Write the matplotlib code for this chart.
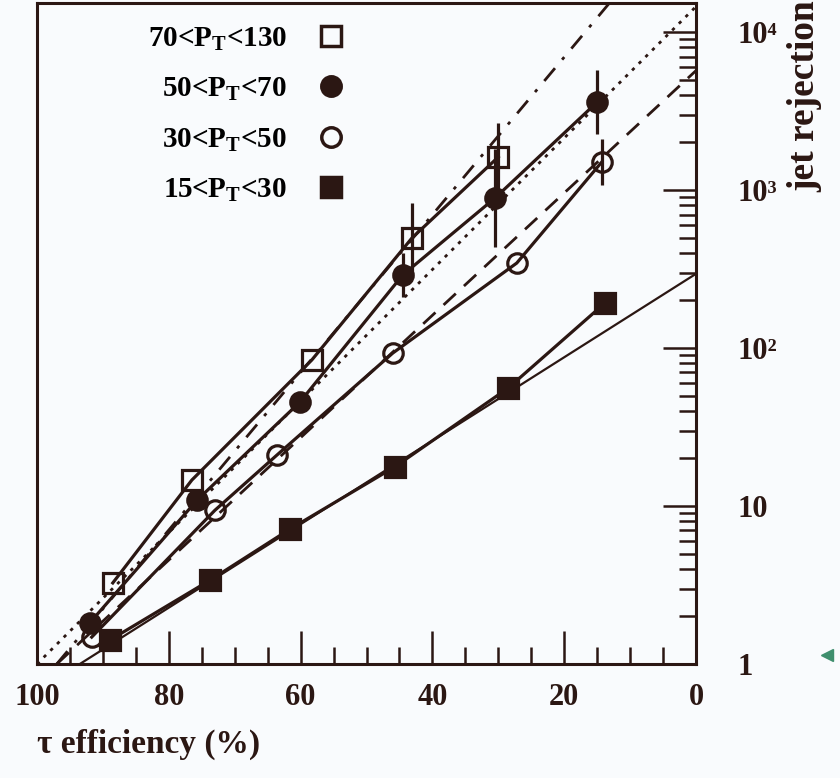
import numpy as np
import matplotlib.pyplot as plt
from matplotlib.lines import Line2D
from matplotlib.ticker import MultipleLocator, LogLocator, NullFormatter

plt.rcParams['font.family'] = ['Liberation Serif', 'DejaVu Serif']
plt.rcParams['font.weight'] = 'bold'

INK = '#2b1713'
BG = '#f9fbfd'
nan = np.nan

# tau efficiency (%) vs jet rejection, one series per P_T bin
eff_70_130 = [88.5, 76.5, 58.3, 43.1, 30.0]
rej_70_130 = [3.26, 14.6, 84, 497, 1618]
lo_70_130 = [nan, nan, nan, 298, 986]
hi_70_130 = [nan, nan, nan, 827, 2655]

eff_50_70 = [92.0, 75.7, 60.1, 44.5, 30.5, 15.0]
rej_50_70 = [1.82, 10.9, 45.5, 290, 890, 3600]
lo_50_70 = [nan, nan, nan, 210, 436, 2261]
hi_50_70 = [nan, nan, nan, 399, 1817, 5745]

eff_30_50 = [91.7, 73.0, 63.6, 46.0, 27.2, 14.3]
rej_30_50 = [1.48, 9.4, 21, 93, 345, 1504]
lo_30_50 = [nan, nan, nan, nan, nan, 1076]
hi_30_50 = [nan, nan, nan, nan, nan, 2103]

eff_15_30 = [88.9, 73.7, 61.6, 45.7, 28.5, 13.8]
rej_15_30 = [1.42, 3.4, 7.15, 17.7, 55.8, 193]

labels = ['70<P$_{\\mathregular{T}}$<130', '50<P$_{\\mathregular{T}}$<70',
          '30<P$_{\\mathregular{T}}$<50', '15<P$_{\\mathregular{T}}$<30']

# straight reference curves (end points)
ref_solid_eff, ref_solid_rej = [93.5, 0], [1, 295]
ref_dash_eff, ref_dash_rej = [97, 0], [1, 5700]
ref_dot_eff, ref_dot_rej = [100, 0], [1, 14500]
ref_dashdot_eff, ref_dashdot_rej = [97, 0], [1, 69000]

yticks = [1, 10, 100, 1000, 10000]
yticklabels = ['1', '10', '10\u00b2', '10\u00b3', '10\u2074']

fig = plt.figure(figsize=(8.4, 7.78), dpi=100, facecolor=BG)
ax = fig.add_axes([37 / 840, 1 - 664 / 778, (696 - 37) / 840, (664 - 3) / 778])
ax.set_facecolor(BG)

ax.plot(ref_solid_eff, ref_solid_rej, color=INK, lw=1.6)
ax.plot(ref_dash_eff, ref_dash_rej, color=INK, lw=2.0, dashes=(6, 4))
ax.plot(ref_dot_eff, ref_dot_rej, color=INK, lw=2.0, dashes=(1.2, 2.2))
ax.plot(ref_dashdot_eff, ref_dashdot_rej, color=INK, lw=2.0, dashes=(6, 4, 1.2, 4))

series = [
    (eff_70_130, rej_70_130, lo_70_130, hi_70_130, 's', 'none'),
    (eff_50_70, rej_50_70, lo_50_70, hi_50_70, 'o', INK),
    (eff_30_50, rej_30_50, lo_30_50, hi_30_50, 'o', 'none'),
    (eff_15_30, rej_15_30, None, None, 's', INK),
]
handles = []
for eff, rej, lo, hi, mk, fc in series:
    ax.plot(eff, rej, color=INK, lw=2.3, marker=mk, ms=14, mfc=fc,
            mec=INK, mew=2.3)
    if lo is not None:
        e, l, h = np.array(eff), np.array(lo), np.array(hi)
        ok = ~np.isnan(l)
        ax.vlines(e[ok], l[ok], h[ok], color=INK, lw=2.3)
    handles.append(Line2D([], [], ls='none', marker=mk, ms=14, mfc=fc,
                          mec=INK, mew=2.5))

ax.legend(handles, labels, loc='upper left', bbox_to_anchor=(0.135, 1.0),
          markerfirst=False, frameon=False, fontsize=21, handlelength=1.0,
          handletextpad=1.0, labelspacing=0.78, borderaxespad=0.35)

ax.set_xlim(100, 0)
ax.set_yscale('log')
ax.set_ylim(1, 15270)
ax.xaxis.set_major_locator(MultipleLocator(20))
ax.xaxis.set_minor_locator(MultipleLocator(5))
ax.yaxis.tick_right()
ax.set_yticks(yticks)
ax.set_yticklabels(yticklabels)
ax.yaxis.set_minor_locator(LogLocator(base=10, subs=np.arange(2, 10)))
ax.yaxis.set_minor_formatter(NullFormatter())

ax.tick_params(which='both', direction='in', color=INK, width=1.8,
               labelsize=22, labelcolor=INK, top=False, left=False)
ax.tick_params(which='major', length=24)
ax.tick_params(which='minor', length=12)
ax.tick_params(axis='x', which='major', pad=14)
ax.tick_params(axis='y', which='major', pad=30)
for s in ax.spines.values():
    s.set_color(INK)
    s.set_linewidth(2.2)

ax.set_xlabel('\u03c4 efficiency (%)', fontsize=24, fontweight='bold',
              color=INK, labelpad=12, loc='left')
fig.text(805 / 840, 1 - 192 / 778, 'jet rejection', rotation=90,
         ha='center', va='bottom', fontsize=27, color=INK)
fig.add_artist(Line2D([827 / 840], [1 - 655 / 778], marker='<', ms=9,
                      color='#3f8f6e', ls='none'))

fig.savefig('out.png', dpi=100, facecolor=BG)
